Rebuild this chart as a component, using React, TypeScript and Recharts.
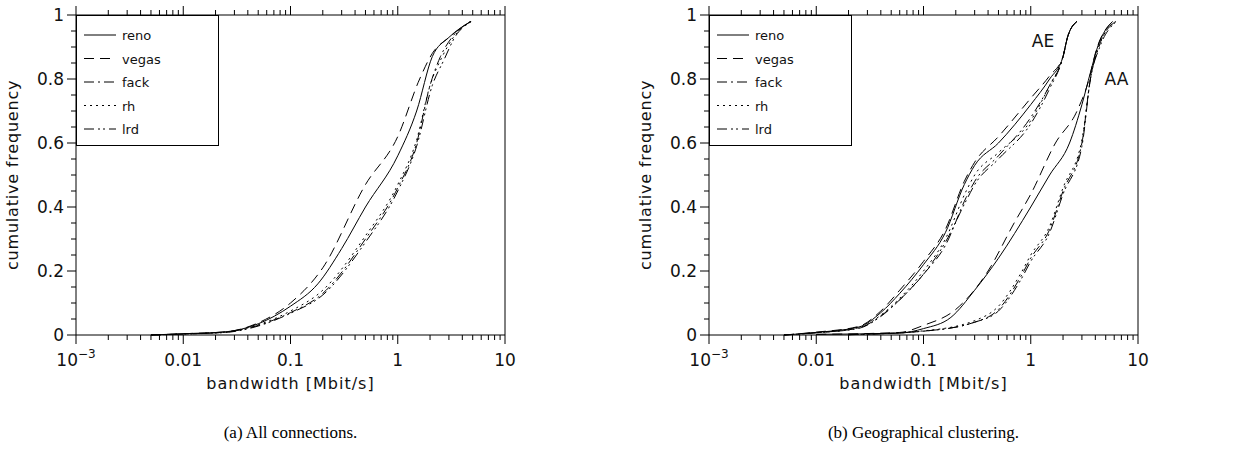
import React from "react";
import { LineChart, Line, XAxis, YAxis, ReferenceDot } from "recharts";

type Pt = { x: number; y: number };
const pts = (a: number[][]): Pt[] => a.map(([x, y]) => ({ x, y }));

const seriesNames = ["reno", "vegas", "fack", "rh", "lrd"];
const dashes = ["", "10 6", "10 4 2 4", "2 4", "10 4 2 3 2 4"];

// (a) All connections
const allReno = pts([[0.005, 0], [0.01, 0.004], [0.025, 0.01], [0.05, 0.035], [0.1, 0.09], [0.18, 0.16], [0.3, 0.27], [0.5, 0.4], [1, 0.56], [1.5, 0.7], [2.1, 0.87], [3, 0.93], [4.8, 0.98]]);
const allVegas = pts([[0.005, 0], [0.01, 0.004], [0.025, 0.01], [0.05, 0.038], [0.1, 0.1], [0.2, 0.21], [0.5, 0.47], [1, 0.62], [1.6, 0.8], [2.1, 0.88], [3, 0.93], [4.8, 0.98]]);
const allFack = pts([[0.005, 0], [0.01, 0.003], [0.025, 0.009], [0.05, 0.03], [0.1, 0.07], [0.2, 0.13], [0.5, 0.3], [1, 0.46], [1.5, 0.6], [2, 0.78], [2.5, 0.87], [3.2, 0.93], [4.8, 0.98]]);
const allRh = pts([[0.005, 0], [0.01, 0.003], [0.025, 0.009], [0.05, 0.032], [0.1, 0.075], [0.2, 0.14], [0.5, 0.31], [1, 0.47], [1.5, 0.61], [2, 0.78], [2.6, 0.87], [3.3, 0.93], [4.8, 0.98]]);
const allLrd = pts([[0.005, 0], [0.01, 0.003], [0.025, 0.008], [0.05, 0.028], [0.1, 0.068], [0.2, 0.125], [0.5, 0.29], [1, 0.45], [1.5, 0.59], [2.1, 0.78], [2.7, 0.86], [3.4, 0.93], [4.9, 0.98]]);

// (b) Geographical clustering, AE group
const aeReno = pts([[0.005, 0], [0.01, 0.008], [0.025, 0.025], [0.04, 0.07], [0.06, 0.13], [0.1, 0.22], [0.16, 0.32], [0.24, 0.47], [0.3, 0.53], [0.5, 0.6], [1, 0.72], [1.5, 0.8], [2, 0.87], [2.2, 0.93], [2.7, 0.98]]);
const aeVegas = pts([[0.005, 0], [0.01, 0.009], [0.025, 0.027], [0.04, 0.075], [0.06, 0.14], [0.1, 0.23], [0.16, 0.33], [0.24, 0.48], [0.3, 0.54], [0.5, 0.62], [1, 0.74], [1.5, 0.81], [2, 0.87], [2.2, 0.93], [2.7, 0.98]]);
const aeFack = pts([[0.005, 0], [0.01, 0.007], [0.025, 0.022], [0.04, 0.06], [0.06, 0.11], [0.1, 0.19], [0.16, 0.28], [0.25, 0.43], [0.3, 0.48], [0.5, 0.56], [1, 0.68], [1.5, 0.78], [2, 0.87], [2.2, 0.93], [2.7, 0.98]]);
const aeRh = pts([[0.005, 0], [0.01, 0.007], [0.025, 0.023], [0.04, 0.062], [0.06, 0.115], [0.1, 0.2], [0.16, 0.3], [0.25, 0.45], [0.3, 0.5], [0.5, 0.57], [1, 0.67], [1.5, 0.78], [2, 0.87], [2.2, 0.93], [2.7, 0.98]]);
const aeLrd = pts([[0.005, 0], [0.01, 0.007], [0.025, 0.021], [0.04, 0.058], [0.06, 0.11], [0.1, 0.19], [0.16, 0.29], [0.25, 0.42], [0.3, 0.47], [0.5, 0.55], [1, 0.66], [1.5, 0.77], [2, 0.87], [2.2, 0.93], [2.7, 0.98]]);

// (b) AA group
const aaReno = pts([[0.01, 0.002], [0.06, 0.006], [0.1, 0.02], [0.18, 0.055], [0.3, 0.14], [0.5, 0.24], [1, 0.4], [1.5, 0.5], [2.3, 0.6], [3, 0.72], [3.6, 0.82], [4.2, 0.9], [5.8, 0.98]]);
const aaVegas = pts([[0.01, 0.002], [0.06, 0.008], [0.1, 0.03], [0.2, 0.08], [0.4, 0.2], [0.7, 0.35], [1, 0.44], [1.7, 0.6], [2.7, 0.7], [3.5, 0.8], [4, 0.88], [5.8, 0.98]]);
const aaFack = pts([[0.02, 0.001], [0.1, 0.012], [0.3, 0.04], [0.5, 0.08], [0.8, 0.18], [1, 0.24], [1.5, 0.33], [2, 0.45], [3, 0.6], [3.6, 0.8], [4.3, 0.9], [6.2, 0.98]]);
const aaRh = pts([[0.02, 0.001], [0.1, 0.013], [0.3, 0.045], [0.5, 0.09], [0.8, 0.19], [1, 0.25], [1.5, 0.34], [2, 0.46], [3, 0.61], [3.6, 0.8], [4.3, 0.9], [6.2, 0.98]]);
const aaLrd = pts([[0.02, 0.001], [0.1, 0.012], [0.3, 0.04], [0.5, 0.075], [0.8, 0.17], [1, 0.23], [1.5, 0.32], [2, 0.44], [3, 0.59], [3.6, 0.8], [4.4, 0.9], [6.3, 0.98]]);

const majorX = [0.001, 0.01, 0.1, 1, 10];
const xTicks: number[] = [];
[0.001, 0.01, 0.1, 1].forEach((d) => {
  for (let k = 1; k <= 9; k++) xTicks.push(+(d * k).toPrecision(3));
});
xTicks.push(10);
const yTicks: number[] = [];
for (let i = 0; i <= 20; i++) yTicks.push(+(i * 0.05).toFixed(2));

const FONT = "'DejaVu Sans', sans-serif";
const isMajorX = (v: number) => majorX.some((m) => Math.abs(m - v) < 1e-9);
const isMajorY = (v: number) => Math.abs(v * 5 - Math.round(v * 5)) < 1e-6;

function XTick(props: any) {
  const { x, y, payload, top } = props;
  const v = payload.value;
  const major = isMajorX(v);
  const len = major ? 9 : 5;
  const dir = top ? -1 : 1;
  const y0 = top ? y + 8 : y - 8;
  let label: React.ReactNode = null;
  if (!top && major) {
    label =
      v === 0.001 ? (
        <text x={x} y={y0 + 31} textAnchor="middle" fontSize={17} fontFamily={FONT} fill="#111">
          10<tspan dy={-8} fontSize={12}>−3</tspan>
        </text>
      ) : (
        <text x={x} y={y0 + 31} textAnchor="middle" fontSize={17} fontFamily={FONT} fill="#111">
          {String(v)}
        </text>
      );
  }
  return (
    <g>
      <line x1={x} x2={x} y1={y0} y2={y0 + dir * len} stroke="#000" />
      {label}
    </g>
  );
}

function YTick(props: any) {
  const { x, y, payload, right } = props;
  const v = payload.value;
  const major = isMajorY(v);
  const len = major ? 9 : 5;
  const x0 = right ? x - 8 : x + 8;
  const dir = right ? 1 : -1;
  return (
    <g>
      <line x1={x0} x2={x0 + dir * len} y1={y} y2={y} stroke="#000" />
      {!right && major && (
        <text x={x0 - 12} y={y + 6} textAnchor="end" fontSize={17} fontFamily={FONT} fill="#111">
          {String(+v.toFixed(1))}
        </text>
      )}
    </g>
  );
}

function LegendBox() {
  return (
    <svg width={143} height={131} style={{ display: "block", position: "absolute", left: 76, top: 15 }}>
      <rect x={0.5} y={0.5} width={142} height={130} fill="#fff" stroke="#000" />
      {seriesNames.map((n, i) => (
        <g key={n}>
          <line x1={8} x2={40} y1={20 + i * 23.5} y2={20 + i * 23.5} stroke="#000" strokeDasharray={dashes[i]} />
          <text x={46} y={25 + i * 23.5} fontSize={13} fontFamily={FONT} fill="#111">{n}</text>
        </g>
      ))}
    </svg>
  );
}

function Panel({ groups, caption, left, labels }: { groups: Pt[][][]; caption: string; left: number; labels?: boolean }) {
  return (
    <div style={{ position: "absolute", left, top: 0, width: 580, height: 476 }}>
      <LineChart width={580} height={400} margin={{ top: 7, right: 55, bottom: 15, left: 0 }}>
        <XAxis xAxisId="b" dataKey="x" type="number" scale="log" domain={[0.001, 10]} ticks={xTicks}
          allowDataOverflow interval={0} tick={<XTick />} tickLine={false} axisLine={{ stroke: "#000" }} height={50}
          label={{ value: "bandwidth [Mbit/s]", position: "insideBottom", offset: -4, fontSize: 16, letterSpacing: 1, fontFamily: FONT, fill: "#111" }} />
        <XAxis xAxisId="t" orientation="top" dataKey="x" type="number" scale="log" domain={[0.001, 10]} ticks={xTicks}
          allowDataOverflow interval={0} tick={<XTick top />} tickLine={false} axisLine={{ stroke: "#000" }} height={8} />
        <YAxis yAxisId="l" type="number" domain={[0, 1]} ticks={yTicks} interval={0} tick={<YTick />} tickLine={false}
          axisLine={{ stroke: "#000" }} width={76}
          label={{ value: "cumulative frequency", angle: -90, position: "insideLeft", offset: 12, dy: 95, fontSize: 16, letterSpacing: 0.8, fontFamily: FONT, fill: "#111" }} />
        <YAxis yAxisId="r" orientation="right" type="number" domain={[0, 1]} ticks={yTicks} interval={0} tick={<YTick right />}
          tickLine={false} axisLine={{ stroke: "#000" }} width={20} />
        {groups.map((g, gi) =>
          g.map((d, i) => (
            <Line key={`${gi}-${i}`} xAxisId="b" yAxisId="l" data={d} dataKey="y" type="monotone" stroke="#000"
              strokeWidth={1} strokeDasharray={dashes[i]} dot={false} isAnimationActive={false} />
          ))
        )}
        {labels && (
          <ReferenceDot xAxisId="b" yAxisId="l" x={1.3} y={0.92} r={0} stroke="none"
            label={{ value: "AE", fontSize: 17, fontFamily: FONT, fill: "#111" }} />
        )}
        {labels && (
          <ReferenceDot xAxisId="b" yAxisId="l" x={6.3} y={0.8} r={0} stroke="none"
            label={{ value: "AA", fontSize: 17, fontFamily: FONT, fill: "#111" }} />
        )}
      </LineChart>
      <LegendBox />
      <div style={{ position: "absolute", top: 423, left: 76, width: 429, textAlign: "center", fontFamily: "'Liberation Serif', serif", fontSize: 17 }}>
        {caption}
      </div>
    </div>
  );
}

export default function App() {
  return (
    <div style={{ position: "absolute", left: 0, top: 0, width: 1256, height: 476, background: "#fff" }}>
      <Panel left={0} caption="(a) All connections." groups={[[allReno, allVegas, allFack, allRh, allLrd]]} />
      <Panel left={633} labels caption="(b) Geographical clustering."
        groups={[[aeReno, aeVegas, aeFack, aeRh, aeLrd], [aaReno, aaVegas, aaFack, aaRh, aaLrd]]} />
    </div>
  );
}
